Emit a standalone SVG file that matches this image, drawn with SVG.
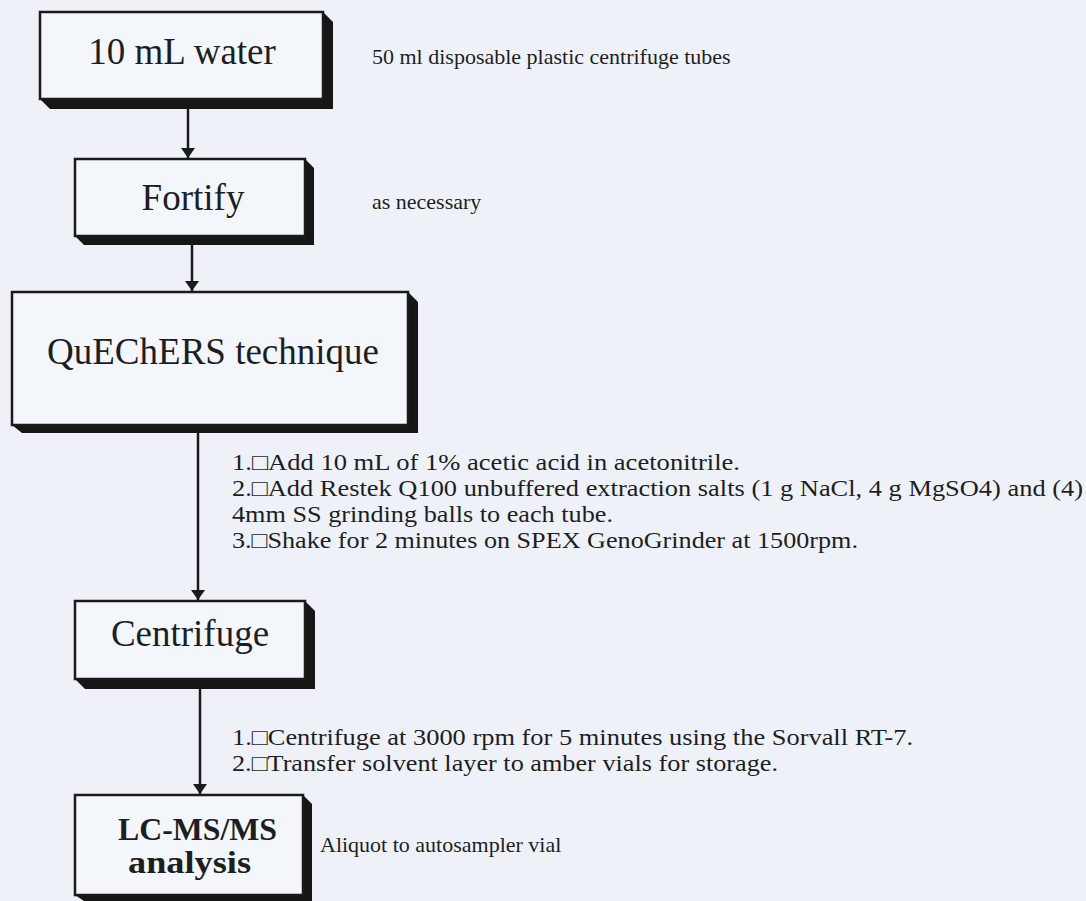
<svg xmlns="http://www.w3.org/2000/svg" width="1086" height="901" viewBox="0 0 1086 901">
<style>
.bg{fill:#eef2f8}
.box{fill:#f3f6fa;stroke:#1a1a1a;stroke-width:2.5}
.sh{fill:#161616}
.lbl{font-family:"Liberation Serif","Times New Roman",serif;fill:#1e1e1e;font-size:37px;text-anchor:middle}
.bold{font-weight:bold;font-size:32px;text-anchor:start}
.note{font-family:"Liberation Serif","Times New Roman",serif;fill:#1e1e1e;font-size:22px}
.step{font-family:"Liberation Serif","Times New Roman",serif;fill:#1e1e1e;font-size:23px}
.ln{stroke:#1a1a1a;stroke-width:2.5;fill:none}
</style>
<defs>
<marker id="ah" viewBox="0 0 10 20" refX="10" refY="10" markerWidth="10" markerHeight="20" markerUnits="userSpaceOnUse" orient="auto">
<path d="M0,3 L10,10 L0,17 Z" fill="#1a1a1a"/>
</marker>
</defs>
<rect class="bg" x="0" y="0" width="1086" height="901"/>
<g id="connectors">
<line class="ln" x1="188" y1="109" x2="188" y2="158" marker-end="url(#ah)"/>
<line class="ln" x1="192" y1="244" x2="192" y2="291" marker-end="url(#ah)"/>
<line class="ln" x1="198" y1="433" x2="198" y2="600" marker-end="url(#ah)"/>
<line class="ln" x1="200" y1="689" x2="200" y2="794" marker-end="url(#ah)"/>
</g>
<g id="node-water">
<polygon class="sh" points="323,12 333,22 333,109 50,109 40,99"/>
<rect class="box" x="40" y="12" width="283" height="87"/>
<text class="lbl" x="182" y="64">10 mL water</text>
<text class="note" x="372" y="64">50 ml disposable plastic centrifuge tubes</text>
</g>
<g id="node-fortify">
<polygon class="sh" points="305,159 314,168 314,245 84,245 75,236"/>
<rect class="box" x="75" y="159" width="230" height="77"/>
<text class="lbl" x="193" y="210">Fortify</text>
<text class="note" x="372" y="209">as necessary</text>
</g>
<g id="node-quechers">
<polygon class="sh" points="408,292 418,302 418,433 22,433 12,425"/>
<rect class="box" x="12" y="292" width="396" height="133"/>
<text class="lbl" x="213" y="364">QuEChERS technique</text>
<text class="step" x="232" y="470" textLength="508" lengthAdjust="spacingAndGlyphs">1.□Add 10 mL of 1% acetic acid in acetonitrile.</text>
<text class="step" x="232" y="496" textLength="851" lengthAdjust="spacingAndGlyphs">2.□Add Restek Q100 unbuffered extraction salts (1 g NaCl, 4 g MgSO4) and (4)</text>
<text class="step" x="232" y="522" textLength="381" lengthAdjust="spacingAndGlyphs">4mm SS grinding balls to each tube.</text>
<text class="step" x="232" y="548" textLength="626" lengthAdjust="spacingAndGlyphs">3.□Shake for 2 minutes on SPEX GenoGrinder at 1500rpm.</text>
</g>
<g id="node-centrifuge">
<polygon class="sh" points="305,601 315,611 315,689 85,689 75,679"/>
<rect class="box" x="75" y="601" width="230" height="78"/>
<text class="lbl" x="190" y="646">Centrifuge</text>
<text class="step" x="232" y="745" textLength="681" lengthAdjust="spacingAndGlyphs">1.□Centrifuge at 3000 rpm for 5 minutes using the Sorvall RT-7.</text>
<text class="step" x="232" y="771" textLength="546" lengthAdjust="spacingAndGlyphs">2.□Transfer solvent layer to amber vials for storage.</text>
</g>
<g id="node-lcms">
<polygon class="sh" points="303,795 312,804 312,901 84,901 75,895"/>
<rect class="box" x="75" y="795" width="228" height="100"/>
<text class="lbl bold" x="118" y="840" textLength="159" lengthAdjust="spacingAndGlyphs">LC-MS/MS</text>
<text class="lbl bold" x="128" y="873" textLength="123" lengthAdjust="spacingAndGlyphs">analysis</text>
<text class="note" x="320" y="852">Aliquot to autosampler vial</text>
</g>
</svg>
